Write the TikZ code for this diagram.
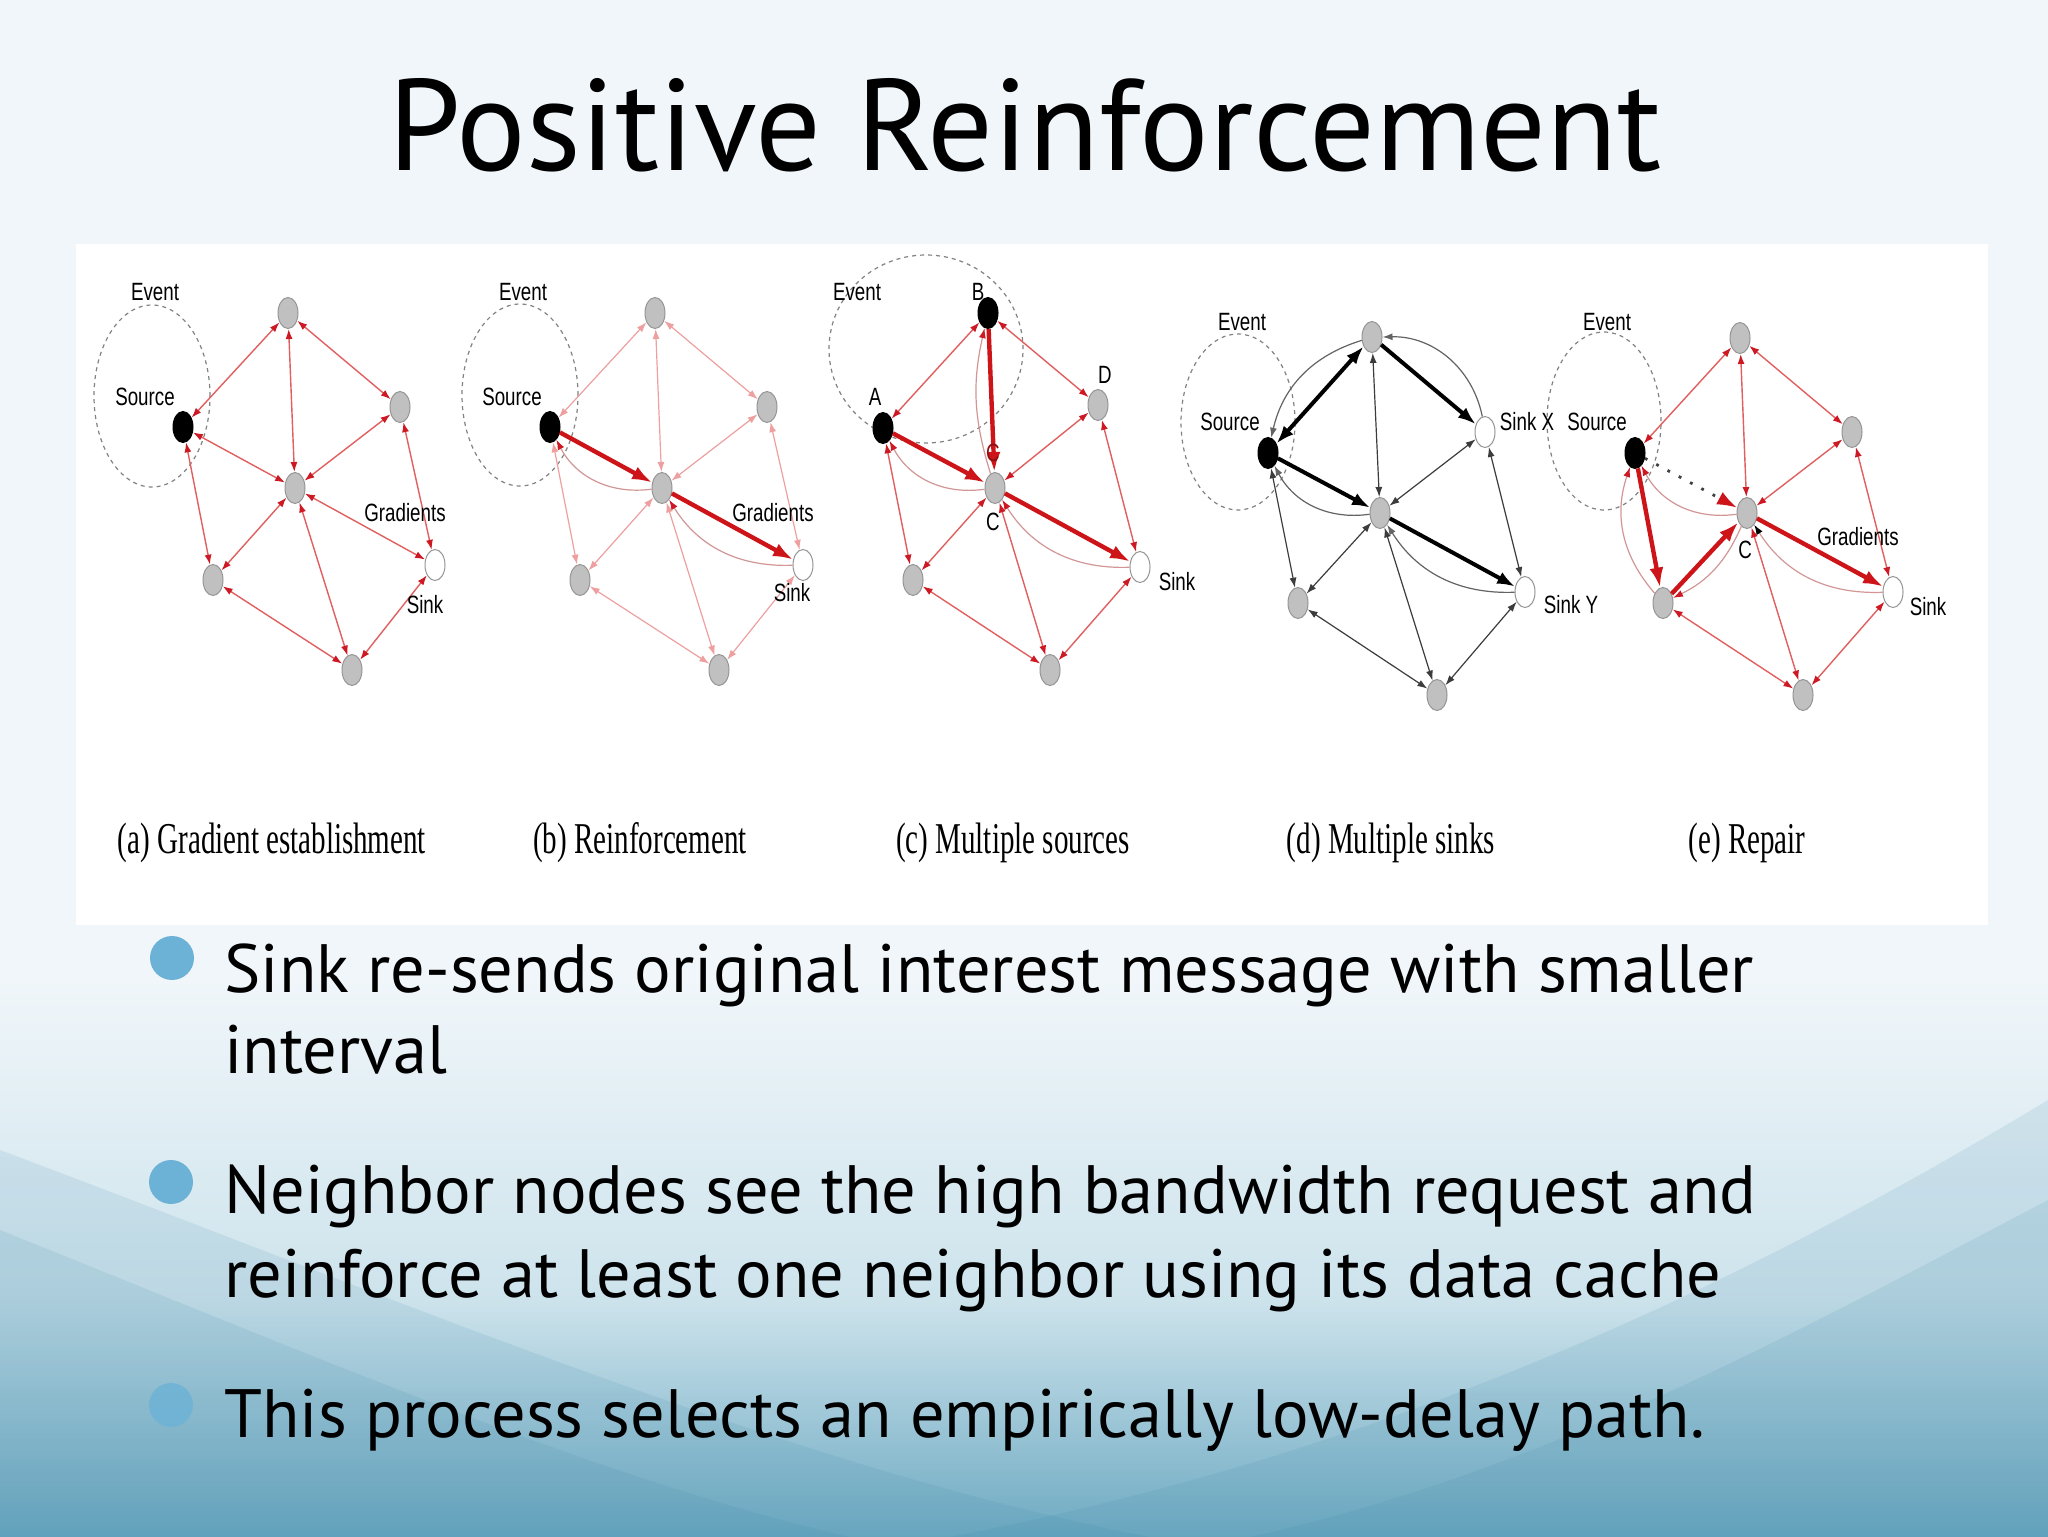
\documentclass[tikz,border=0pt]{standalone}
\usepackage{fontspec}
\setmainfont{PT Sans}
\newfontfamily\labfont{Liberation Sans}
\newfontfamily\capfont{Liberation Serif}
\usetikzlibrary{arrows.meta,shapes.geometric}
\definecolor{bgout}{RGB}{240,246,250}
\definecolor{bgmid}{RGB}{205,227,236}
\definecolor{bgdark}{RGB}{110,170,194}
\definecolor{wavecol}{RGB}{60,135,168}
\definecolor{bulcol}{RGB}{108,178,214}
\definecolor{redline}{RGB}{225,95,95}
\definecolor{redhead}{RGB}{205,25,35}
\definecolor{redthick}{RGB}{205,20,25}
\definecolor{pinkline}{RGB}{238,160,160}
\definecolor{curvecol}{RGB}{210,150,150}
\definecolor{blkline}{RGB}{60,60,60}
\definecolor{nodegray}{RGB}{192,192,192}
\definecolor{nodeedge}{RGB}{150,150,150}
\definecolor{evtcol}{RGB}{130,130,130}
\newcommand{\mylbl}[1]{\scalebox{0.75}[1]{#1}}
\newcommand{\mycap}[1]{\scalebox{0.66}[1]{#1}}
\tikzset{
  gn/.style={ellipse, draw=nodeedge, fill=nodegray, line width=0.5pt, minimum width=10pt, minimum height=15.5pt, inner sep=0pt},
  bn/.style={gn, fill=black, draw=black},
  wn/.style={gn, fill=white},
  evt/.style={ellipse, draw=evtcol, line width=0.6pt, dash pattern=on 2pt off 2pt, inner sep=0pt},
  lab/.style={font=\labfont\fontsize{12.5}{14}\selectfont, inner sep=0pt},
  captxt/.style={font=\capfont\fontsize{22}{26}\selectfont, inner sep=0pt, anchor=base},
  re/.style={draw=redline, line width=0.7pt, arrows={Latex[length=5pt,width=3.5pt,color=redhead]-Latex[length=5pt,width=3.5pt,color=redhead]}},
  pe/.style={draw=pinkline, line width=0.6pt, arrows={Latex[length=5pt,width=3.5pt,color=pinkline]-Latex[length=5pt,width=3.5pt,color=pinkline]}},
  rt/.style={draw=redthick, line width=2.2pt, arrows={-Latex[length=10pt,width=7pt]}},
  rc/.style={draw=curvecol, line width=0.6pt, arrows={-Latex[length=5pt,width=3.5pt,color=redhead]}},
  bk/.style={draw=blkline, line width=0.6pt, arrows={Latex[length=5pt,width=3.5pt]-Latex[length=5pt,width=3.5pt]}},
  bkt/.style={draw=black, line width=2pt, arrows={-Latex[length=9pt,width=6.5pt]}},
  bkc/.style={draw=blkline!80, line width=0.6pt, arrows={-Latex[length=5pt,width=3.5pt]}},
  dotl/.style={draw=black!75, line width=1.4pt, dash pattern=on 1.4pt off 5pt, arrows={-Latex[length=10pt,width=7pt,color=redthick]}},
  bul/.style={circle, fill=bulcol, minimum size=22pt, inner sep=0pt},
  btxt/.style={font=\fontsize{34.2}{41}\selectfont, inner sep=0pt, anchor=base west},
  wave/.style={fill=wavecol, fill opacity=0.12, draw=none}
}
\begin{document}
\begin{tikzpicture}[x=0.5pt,y=-0.5pt]
\useasboundingbox (0,0) rectangle (2048,1536);
% background
\fill[bgout] (0,0) rectangle (2048,1536);
\shade[top color=bgout, bottom color=bgmid] (0,980) rectangle (2048,1300);
\shade[top color=bgmid, bottom color=bgdark] (0,1299) rectangle (2048,1537);
\fill[wave] (0,1150) .. controls (400,1300) and (800,1470) .. (1150,1537) -- (0,1537) -- cycle;
\fill[wave] (0,1230) .. controls (300,1350) and (600,1480) .. (850,1537) -- (0,1537) -- cycle;
\fill[wave] (2048,1100) .. controls (1750,1280) and (1400,1450) .. (950,1537) -- (2048,1537) -- cycle;
\fill[wave] (2048,1200) .. controls (1800,1330) and (1550,1470) .. (1250,1537) -- (2048,1537) -- cycle;
% title
\node[anchor=base, font=\fontsize{65}{78}\selectfont, inner sep=0pt] (title) at (1025,170) {Positive Reinforcement};
% white figure panel
\fill[white] (76,244) rectangle (1988,925);

% ---------- panel (a)
\begin{scope}
  \node[evt, minimum width=58pt, minimum height=91pt] (aE) at (152,396) {};
  \node[bn] (aS) at (183,427) {};
  \node[gn] (aT) at (288,313) {};
  \node[gn] (aR) at (400,407) {};
  \node[gn] (aC) at (295,488) {};
  \node[wn] (aK) at (435,565) {};
  \node[gn] (aL) at (213,580) {};
  \node[gn] (aB) at (352,670) {};
  \draw[re] (aS) -- (aT);
  \draw[re] (aT) -- (aR);
  \draw[re] (aT) -- (aC);
  \draw[re] (aR) -- (aC);
  \draw[re] (aS) -- (aC);
  \draw[re] (aC) -- (aL);
  \draw[re] (aC) -- (aB);
  \draw[re] (aC) -- (aK);
  \draw[re] (aS) -- (aL);
  \draw[re] (aR) -- (aK);
  \draw[re] (aL) -- (aB);
  \draw[re] (aK) -- (aB);
\end{scope}
% ---------- panel (b)
\begin{scope}[shift={(367,0)}]
  \node[evt, minimum width=58pt, minimum height=91pt] (bE) at (153,395) {};
  \node[bn] (bS) at (183,427) {};
  \node[gn] (bT) at (288,313) {};
  \node[gn] (bR) at (400,407) {};
  \node[gn] (bC) at (295,488) {};
  \node[wn] (bK) at (436,565) {};
  \node[gn] (bL) at (213,580) {};
  \node[gn] (bB) at (352,670) {};
  \draw[pe] (bS) -- (bT);
  \draw[pe] (bT) -- (bR);
  \draw[pe] (bT) -- (bC);
  \draw[pe] (bR) -- (bC);
  \draw[pe] (bC) -- (bL);
  \draw[pe] (bC) -- (bB);
  \draw[pe] (bS) -- (bL);
  \draw[pe] (bR) -- (bK);
  \draw[pe] (bL) -- (bB);
  \draw[pe] (bK) -- (bB);
  \draw[rc] (bC) to[bend left=35] (bS);
  \draw[rc] (bK) to[bend left=30] (bC);
  \draw[rt] (bS) -- (bC);
  \draw[rt] (bC) -- (bK);
\end{scope}
% ---------- panel (c)
\begin{scope}[shift={(700,0)}]
  \node[evt, minimum width=97pt, minimum height=94pt] (cE) at (226,349) {};
  \node[bn] (cA) at (183,428) {};
  \node[bn] (cB) at (288,313) {};
  \node[gn] (cD) at (398,405) {};
  \node[gn] (cC) at (295,488) {};
  \node[wn] (cK) at (440,567) {};
  \node[gn] (cL) at (213,580) {};
  \node[gn] (cBo) at (350,670) {};
  \draw[re] (cA) -- (cB);
  \draw[re] (cB) -- (cD);
  \draw[re] (cD) -- (cC);
  \draw[re] (cD) -- (cK);
  \draw[re] (cA) -- (cL);
  \draw[re] (cC) -- (cL);
  \draw[re] (cC) -- (cBo);
  \draw[re] (cL) -- (cBo);
  \draw[re] (cK) -- (cBo);
  \draw[rc] (cC) to[bend left=35] (cA);
  \draw[rc] (cK) to[bend left=30] (cC);
  \draw[rc] (cC) to[bend left=15] (cB);
  \draw[rt] (cB) -- (cC);
  \draw[rt] (cA) -- (cC);
  \draw[rt] (cC) -- (cK);
\end{scope}
% ---------- panel (d)
\begin{scope}[shift={(1085,25)}]
  \node[evt, minimum width=57pt, minimum height=88pt] (dE) at (153,397) {};
  \node[bn] (dS) at (183,428) {};
  \node[gn] (dT) at (287,312) {};
  \node[wn] (dX) at (400,407) {};
  \node[gn] (dC) at (295,488) {};
  \node[wn] (dY) at (440,567) {};
  \node[gn] (dL) at (213,578) {};
  \node[gn] (dB) at (352,670) {};
  \draw[bk] (dT) -- (dC);
  \draw[bk] (dX) -- (dC);
  \draw[bk] (dX) -- (dY);
  \draw[bk] (dS) -- (dL);
  \draw[bk] (dC) -- (dL);
  \draw[bk] (dC) -- (dB);
  \draw[bk] (dL) -- (dB);
  \draw[bk] (dY) -- (dB);
  \draw[bkc] (dX) to[bend right=40] (dT);
  \draw[bkc] (dT) to[bend right=30] (dS);
  \draw[bkc] (dC) to[bend left=35] (dS);
  \draw[bkc] (dY) to[bend left=30] (dC);
  \draw[bkt, arrows={Latex[length=9pt,width=6.5pt]-Latex[length=9pt,width=6.5pt]}] (dS) -- (dT);
  \draw[bkt] (dT) -- (dX);
  \draw[bkt] (dS) -- (dC);
  \draw[bkt] (dC) -- (dY);
\end{scope}
% ---------- panel (e)
\begin{scope}[shift={(1452,25)}]
  \node[evt, minimum width=57pt, minimum height=89pt] (eE) at (152,396) {};
  \node[bn] (eS) at (183,428) {};
  \node[gn] (eT) at (288,313) {};
  \node[gn] (eR) at (400,407) {};
  \node[gn] (eC) at (295,488) {};
  \node[wn] (eK) at (441,567) {};
  \node[gn] (eL) at (211,578) {};
  \node[gn] (eB) at (351,670) {};
  \draw[re] (eS) -- (eT);
  \draw[re] (eT) -- (eC);
  \draw[re] (eT) -- (eR);
  \draw[re] (eR) -- (eC);
  \draw[re] (eR) -- (eK);
  \draw[re] (eC) -- (eB);
  \draw[re] (eL) -- (eB);
  \draw[re] (eK) -- (eB);
  \draw[rc] (eC) to[bend left=35] (eS);
  \draw[rc, arrows={-Latex[length=5pt,width=3.5pt,color=black]}] (eK) to[bend left=30] (eC);
  \draw[rc] (eL) to[bend left=30] (eS);
  \draw[rc] (eC) to[bend left=20] (eL);
  \draw[dotl] (eS) -- (eC);
  \draw[rt] (eS) -- (eL);
  \draw[rt] (eL) -- (eC);
  \draw[rt] (eC) -- (eK);
\end{scope}

% ---------- diagram labels
\node[lab] (la1) at (155,292) {\mylbl{Event}};
\node[lab] (la2) at (145,397) {\mylbl{Source}};
\node[lab] (la3) at (405,513) {\mylbl{Gradients}};
\node[lab] (la4) at (425,605) {\mylbl{Sink}};
\node[lab] (lb1) at (523,292) {\mylbl{Event}};
\node[lab] (lb2) at (512,397) {\mylbl{Source}};
\node[lab] (lb3) at (773,513) {\mylbl{Gradients}};
\node[lab] (lb4) at (792,593) {\mylbl{Sink}};
\node[lab] (lc1) at (857,292) {\mylbl{Event}};
\node[lab] (lc2) at (875,397) {\mylbl{A}};
\node[lab] (lc3) at (978,292) {\mylbl{B}};
\node[lab] (lc4) at (1105,375) {\mylbl{D}};
\node[lab, text=redthick!70!black] (lc5) at (993,453) {\mylbl{C}};
\node[lab] (lc6) at (993,522) {\mylbl{C}};
\node[lab] (lc7) at (1177,582) {\mylbl{Sink}};
\node[lab] (ld1) at (1242,322) {\mylbl{Event}};
\node[lab] (ld2) at (1230,422) {\mylbl{Source}};
\node[lab] (ld3) at (1527,422) {\mylbl{Sink X}};
\node[lab] (ld4) at (1571,605) {\mylbl{Sink Y}};
\node[lab] (le1) at (1607,322) {\mylbl{Event}};
\node[lab] (le2) at (1597,422) {\mylbl{Source}};
\node[lab] (le3) at (1745,550) {\mylbl{C}};
\node[lab] (le4) at (1858,537) {\mylbl{Gradients}};
\node[lab] (le5) at (1928,607) {\mylbl{Sink}};

% ---------- captions
\node[captxt] (ca) at (272,853) {\mycap{(a) Gradient establishment}};
\node[captxt] (cb) at (640,853) {\mycap{(b) Reinforcement}};
\node[captxt] (cc) at (1013,853) {\mycap{(c) Multiple sources}};
\node[captxt] (cd) at (1391,853) {\mycap{(d) Multiple sinks}};
\node[captxt] (ce) at (1747,853) {\mycap{(e) Repair}};

% ---------- bullets
\node[bul] (d1) at (172,958) {};
\node[bul] (d2) at (171,1182) {};
\node[bul, fill opacity=0.8] (d3) at (171,1405) {};
\node[btxt] (t1a) at (224,992) {Sink re-sends original interest message with smaller};
\node[btxt] (t1b) at (224,1073) {interval};
\node[btxt] (t2a) at (224,1213) {Neighbor nodes see the high bandwidth request and};
\node[btxt] (t2b) at (224,1297) {reinforce at least one neighbor using its data cache};
\node[btxt] (t3a) at (224,1437) {This process selects an empirically low-delay path.};
\end{tikzpicture}
\end{document}
